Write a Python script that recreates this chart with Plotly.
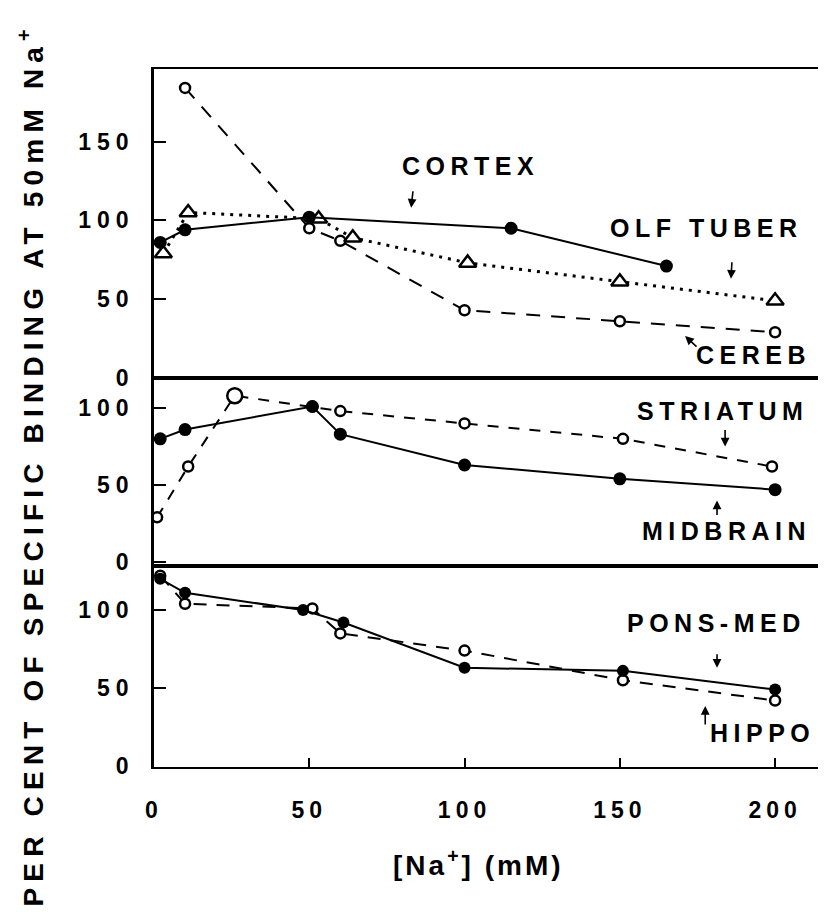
import plotly.graph_objects as go
from plotly.subplots import make_subplots

# ---- data ----
cortex_x = [2, 10, 50, 115, 165]
cortex_y = [86, 94, 102, 95, 71]
olf_x = [3, 11, 53, 64, 101, 150, 200]
olf_y = [79, 105, 101, 89, 73, 61, 49]
cereb_x = [10, 50, 60, 100, 150, 200]
cereb_y = [184, 95, 87, 43, 36, 29]

midbrain_x = [2, 10, 51, 60, 100, 150, 200]
midbrain_y = [80, 86, 101, 83, 63, 54, 47]
striatum_x = [1, 11, 26, 51, 60, 100, 151, 199]
striatum_y = [29, 62, 108, 101, 98, 90, 80, 62]

pons_x = [2, 10, 48, 61, 100, 151, 200]
pons_y = [120, 111, 100, 92, 63, 61, 49]
hippo_x = [2, 10, 51, 60, 100, 151, 200]
hippo_y = [122, 104, 101, 85, 74, 55, 42]

x_ticks = [0, 50, 100, 150, 200]
top_ticks = [0, 50, 100, 150]
low_ticks = [0, 50, 100]

FONT = "Liberation Sans"


def spaced(s, sp):
    return f"<span style='letter-spacing:{sp}px'>{s}</span>"


fig = make_subplots(rows=3, cols=1, shared_xaxes=True, vertical_spacing=0,
                    row_heights=[309, 188, 201])


def add(x, y, row, symbol, filled, dash, size=10, lw=2, mlw=2.5, mode="lines+markers"):
    fig.add_trace(go.Scatter(
        x=x, y=y, mode=mode, cliponaxis=False,
        line=dict(color="black", width=lw, dash=dash),
        marker=dict(symbol=symbol, size=size,
                    color="black" if filled else "white",
                    line=dict(color="black", width=mlw)),
        showlegend=False), row=row, col=1)


# top panel
add(cereb_x, cereb_y, 1, "circle", False, "14px,11px", size=10)
add(olf_x, olf_y, 1, "triangle-up", False, "3px,6px", size=15, lw=3)
add(cortex_x, cortex_y, 1, "circle", True, "solid", size=13, mlw=0)
# middle panel
add(striatum_x, striatum_y, 2, "circle", False, "11px,10px", size=10)
add(striatum_x[2:3], striatum_y[2:3], 2, "circle", False, "solid", size=15, mode="markers")
add(midbrain_x, midbrain_y, 2, "circle", True, "solid", size=13, mlw=0)
# bottom panel
add(hippo_x, hippo_y, 3, "circle", False, "13px,10px", size=10)
add(pons_x, pons_y, 3, "circle", True, "solid", size=12, mlw=0)

axis_line = dict(showline=True, linecolor="black", showgrid=False,
                 zeroline=False, automargin=False)
tickfont = dict(family=FONT, size=23, color="black", weight="bold")

for r in (1, 2, 3):
    fig.update_xaxes(range=[0, 218], mirror=True, linewidth=2, **axis_line, row=r, col=1)
fig.update_xaxes(ticks="inside", ticklen=9, tickwidth=2, tickcolor="black",
                 tickvals=x_ticks, ticktext=[spaced(v, 5) for v in x_ticks],
                 tickfont=tickfont, ticklabelstandoff=21, row=3, col=1)
fig.update_xaxes(showticklabels=False, row=1, col=1)
fig.update_xaxes(showticklabels=False, row=2, col=1)

fig.update_yaxes(range=[0, 196], mirror=True, tickvals=top_ticks,
                 ticktext=[spaced(v, 6) for v in top_ticks], row=1, col=1, **axis_line)
fig.update_yaxes(range=[-2.6, 119.5], tickvals=low_ticks,
                 ticktext=[spaced(v, 6) for v in low_ticks], row=2, col=1, **axis_line)
fig.update_yaxes(range=[-0.6, 128.2], tickvals=low_ticks,
                 ticktext=[spaced(v, 6) for v in low_ticks], row=3, col=1, **axis_line)
fig.update_yaxes(ticks="inside", ticklen=12, tickwidth=2, tickcolor="black", linewidth=2.5,
                 tickfont=tickfont, ticklabelstandoff=12)

lab_font = dict(family=FONT, size=25, color="black", weight="bold")


def label(text, x, y, xref, yref):
    fig.add_annotation(text=spaced(text, 5.5), x=x, y=y, xref=xref, yref=yref,
                       showarrow=False, font=lab_font, xanchor="center", yanchor="middle")


def arrow(x, y, xref, yref, ax, ay):
    fig.add_annotation(text="", x=x, y=y, xref=xref, yref=yref, ax=ax, ay=ay,
                       showarrow=True, arrowhead=2, arrowsize=1.1, arrowwidth=1.6,
                       arrowcolor="black")


label("CORTEX", 102, 134.5, "x", "y")
arrow(82.8, 108, "x", "y", 2, -18)
label("OLF TUBER", 178, 95, "x", "y")
arrow(185.8, 63, "x", "y", 1, -18)
label("CEREB", 193, 14.5, "x", "y")
arrow(171, 26.6, "x", "y", 13, 12)

label("STRIATUM", 183, 98, "x2", "y2")
arrow(183.9, 75, "x2", "y2", 0, -18)
label("MIDBRAIN", 184.5, 20, "x2", "y2")
arrow(181.3, 40, "x2", "y2", 0, 16)

label("PONS-MED", 181, 91.7, "x3", "y3")
arrow(181.3, 63, "x3", "y3", 0, -15)
label("HIPPO", 196, 21, "x3", "y3")
arrow(177.5, 38.5, "x3", "y3", 0, 20)

# axis titles
fig.add_annotation(text=spaced("PER CENT OF SPECIFIC BINDING AT 50mM Na<sup>+</sup>", 6.2),
                   x=-0.182, y=0.433, xref="paper", yref="paper", textangle=-90,
                   showarrow=False, xanchor="center", yanchor="middle",
                   font=dict(family=FONT, size=28, color="black", weight="bold"))
fig.add_annotation(text=spaced("[Na<sup>+</sup>] (mM)", 3),
                   x=0.48, y=-0.138, xref="paper", yref="paper",
                   showarrow=False, xanchor="center", yanchor="middle",
                   font=dict(family=FONT, size=28, color="black", weight="bold"))

fig.update_layout(width=826, height=923, plot_bgcolor="white", paper_bgcolor="white",
                  margin=dict(l=146, r=3, t=61, b=164, autoexpand=False))

fig.write_html("out.html")
